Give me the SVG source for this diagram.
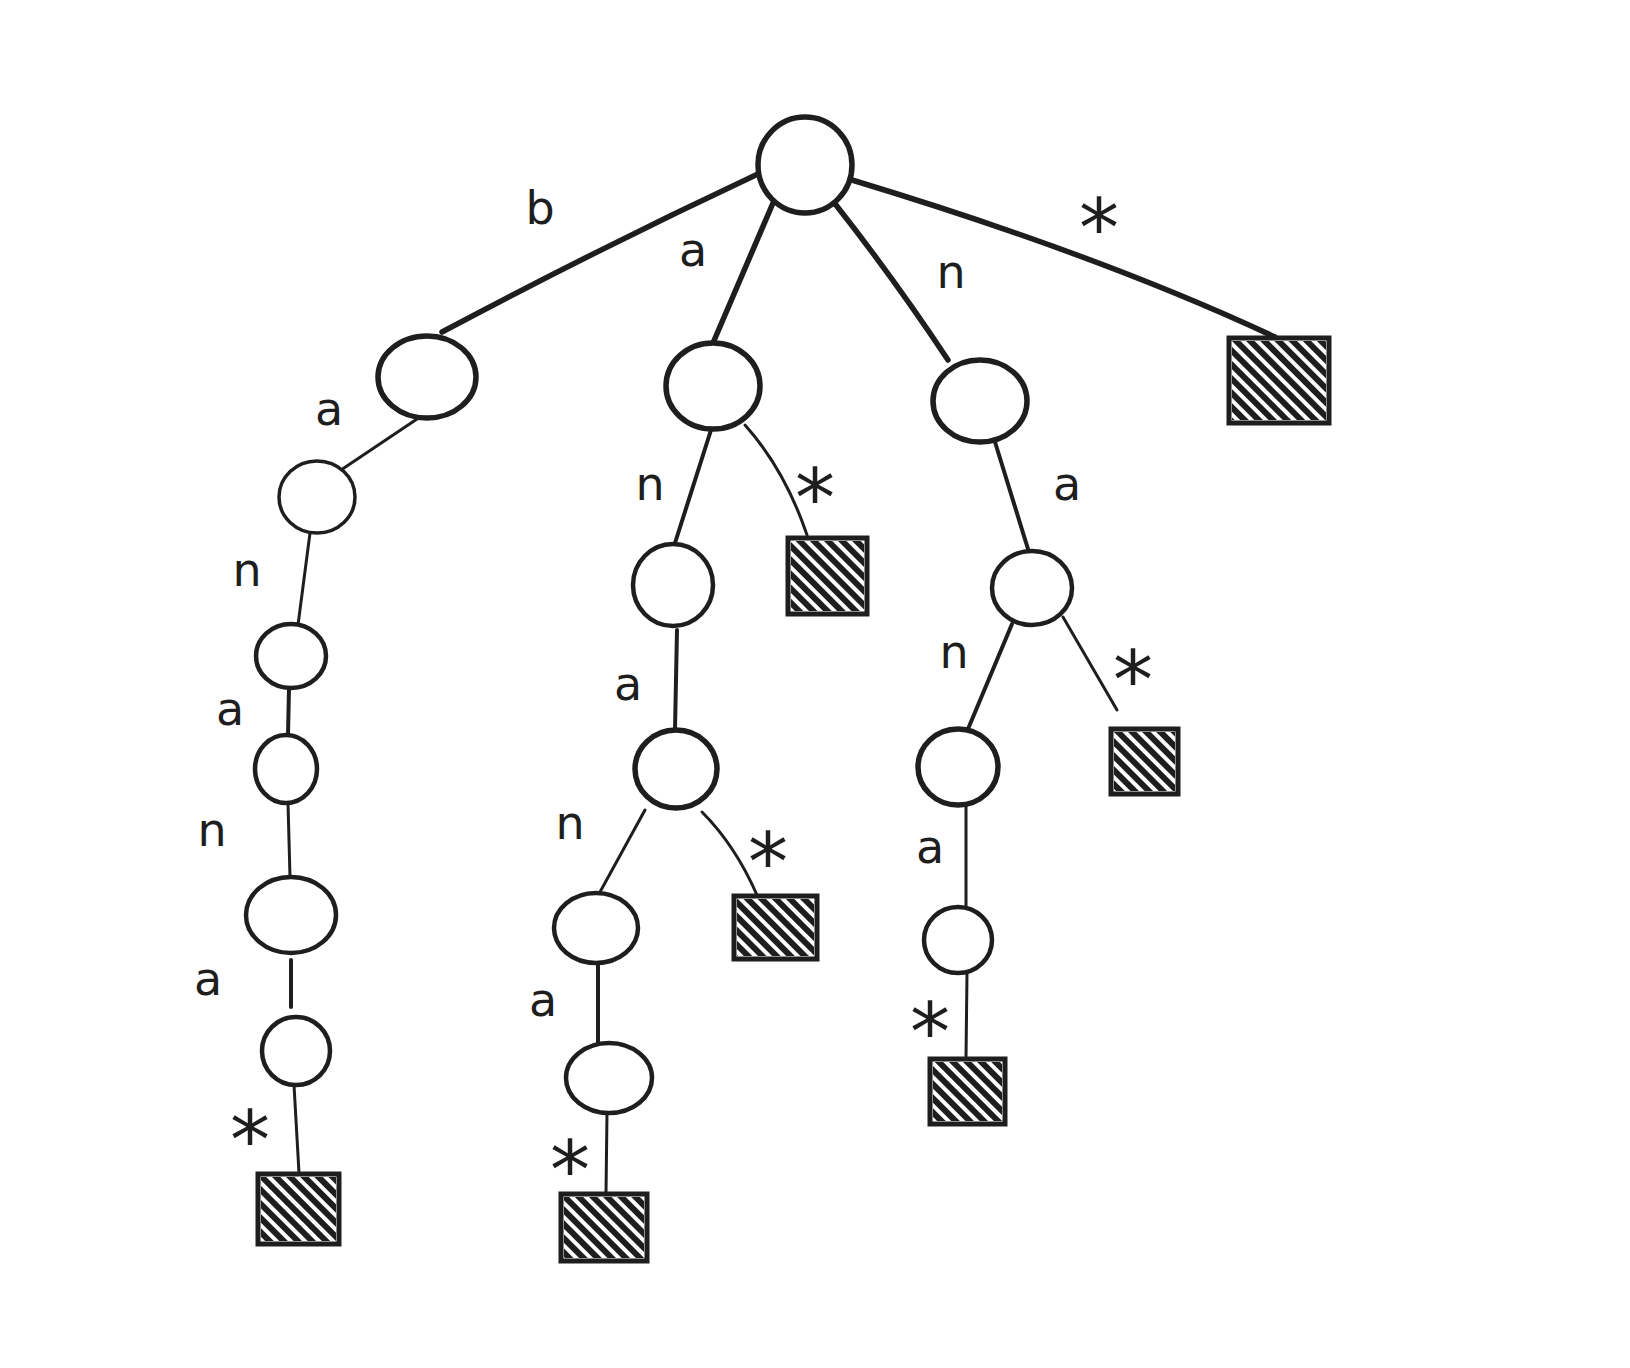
<svg xmlns="http://www.w3.org/2000/svg" width="1630" height="1368" viewBox="0 0 1630 1368">
  <defs>
    <!-- diagonal "\" hatching used to shade the terminal boxes -->
    <pattern id="hatch" patternUnits="userSpaceOnUse" width="10" height="10" patternTransform="rotate(-45)">
      <line x1="3" y1="0" x2="3" y2="10" stroke="#1e1e1e" stroke-width="6"/>
    </pattern>
    <style>
      .node { fill: #ffffff; stroke: #1e1e1e; stroke-width: 4.5; }
      .node.heavy { stroke-width: 5.5; }
      .node.light { stroke-width: 3.5; }
      .leaf .box { fill: #ffffff; stroke: #1e1e1e; stroke-width: 5; stroke-linejoin: miter; }
      .leaf .shade { fill: url(#hatch); stroke: none; }
      .edge { fill: none; stroke: #1e1e1e; stroke-linecap: round; }
      .e-thick { stroke-width: 5.5; }
      .e-mid { stroke-width: 4; }
      .e-thin { stroke-width: 3; }
      .lbl { font-family: "DejaVu Sans", "Liberation Sans", sans-serif; font-size: 46px; fill: #1e1e1e; text-anchor: middle; }
      .star { font-family: "DejaVu Sans", "Liberation Sans", sans-serif; font-size: 80px; fill: #1e1e1e; text-anchor: middle; }
    </style>
  </defs>

  <rect width="1630" height="1368" fill="#ffffff"/>

  <!-- connectors -->
  <g id="edges">
    <!-- from the root -->
    <path class="edge e-thick" d="M760,173 Q600,248 442,332"/>
    <path class="edge e-thick" d="M773,203 L713,343"/>
    <path class="edge e-thick" d="M836,205 Q895,280 948,360"/>
    <path class="edge e-thick" d="M852,180 Q1100,255 1275,337"/>
    <!-- b branch -->
    <path class="edge e-thin" d="M420,417 L338,472"/>
    <path class="edge e-thin" d="M310,533 L298,625"/>
    <path class="edge e-mid" d="M289,688 L288,735"/>
    <path class="edge e-thin" d="M288,803 L290,877"/>
    <path class="edge e-mid" d="M291,960 L291,1007"/>
    <path class="edge e-thin" d="M294,1085 L299,1173"/>
    <!-- a branch -->
    <path class="edge e-mid" d="M711,430 L675,543"/>
    <path class="edge e-thin" d="M745,425 Q785,470 807,535"/>
    <path class="edge e-mid" d="M677,630 L675,729"/>
    <path class="edge e-thin" d="M645,810 L600,892"/>
    <path class="edge e-thin" d="M702,812 Q735,845 757,895"/>
    <path class="edge e-mid" d="M598,964 L598,1043"/>
    <path class="edge e-thin" d="M607,1113 L606,1193"/>
    <!-- n branch -->
    <path class="edge e-mid" d="M995,442 L1028,549"/>
    <path class="edge e-mid" d="M1012,624 L968,729"/>
    <path class="edge e-thin" d="M1063,617 L1117,710"/>
    <path class="edge e-thin" d="M966,806 L966,907"/>
    <path class="edge e-thin" d="M967,973 L966,1058"/>
  </g>

  <!-- edge labels -->
  <g id="labels">
    <text class="lbl" x="540" y="224">b</text>
    <text class="lbl" x="693" y="266">a</text>
    <text class="lbl" x="951" y="288">n</text>
    <text class="star" x="1099" y="256">*</text>

    <text class="lbl" x="329" y="425">a</text>
    <text class="lbl" x="247" y="586">n</text>
    <text class="lbl" x="230" y="725">a</text>
    <text class="lbl" x="212" y="846">n</text>
    <text class="lbl" x="208" y="995">a</text>
    <text class="star" x="250" y="1168">*</text>

    <text class="lbl" x="650" y="500">n</text>
    <text class="star" x="815" y="526">*</text>
    <text class="lbl" x="628" y="700">a</text>
    <text class="lbl" x="570" y="839">n</text>
    <text class="star" x="768" y="890">*</text>
    <text class="lbl" x="543" y="1016">a</text>
    <text class="star" x="570" y="1198">*</text>

    <text class="lbl" x="1067" y="500">a</text>
    <text class="lbl" x="954" y="668">n</text>
    <text class="star" x="1133" y="708">*</text>
    <text class="lbl" x="930" y="863">a</text>
    <text class="star" x="930" y="1060">*</text>
  </g>

  <!-- internal nodes -->
  <g id="root"><ellipse class="node heavy" cx="805" cy="165" rx="47" ry="48"/></g>
  <g id="n-b"><ellipse class="node heavy" cx="427" cy="377" rx="49" ry="41"/></g>
  <g id="n-ba"><ellipse class="node light" cx="317" cy="497" rx="38" ry="36"/></g>
  <g id="n-ban"><ellipse class="node" cx="291" cy="656" rx="35" ry="32"/></g>
  <g id="n-bana"><ellipse class="node" cx="286" cy="769" rx="31" ry="34"/></g>
  <g id="n-banan"><ellipse class="node" cx="291" cy="915" rx="45" ry="38"/></g>
  <g id="n-banana"><ellipse class="node" cx="296" cy="1051" rx="34" ry="34"/></g>

  <g id="n-a"><ellipse class="node heavy" cx="713" cy="386" rx="47" ry="43"/></g>
  <g id="n-an"><ellipse class="node" cx="673" cy="585" rx="40" ry="41"/></g>
  <g id="n-ana"><ellipse class="node heavy" cx="676" cy="769" rx="41" ry="39"/></g>
  <g id="n-anan"><ellipse class="node" cx="596" cy="928" rx="42" ry="35"/></g>
  <g id="n-anana"><ellipse class="node" cx="609" cy="1078" rx="43" ry="35"/></g>

  <g id="n-n"><ellipse class="node heavy" cx="980" cy="401" rx="47" ry="41"/></g>
  <g id="n-na"><ellipse class="node" cx="1032" cy="588" rx="40" ry="37"/></g>
  <g id="n-nan"><ellipse class="node heavy" cx="958" cy="767" rx="40" ry="38"/></g>
  <g id="n-nana"><ellipse class="node" cx="958" cy="940" rx="34" ry="33"/></g>

  <!-- terminal (end-of-string) boxes -->
  <g id="leaf-star" class="leaf">
    <rect class="box" x="1229" y="338" width="100" height="85"/>
    <rect class="shade" x="1232" y="341" width="94" height="79"/>
  </g>
  <g id="leaf-a-star" class="leaf">
    <rect class="box" x="788" y="538" width="79" height="76"/>
    <rect class="shade" x="791" y="541" width="73" height="70"/>
  </g>
  <g id="leaf-ana-star" class="leaf">
    <rect class="box" x="734" y="896" width="83" height="63"/>
    <rect class="shade" x="737" y="899" width="77" height="57"/>
  </g>
  <g id="leaf-anana-star" class="leaf">
    <rect class="box" x="561" y="1194" width="86" height="67"/>
    <rect class="shade" x="564" y="1197" width="80" height="61"/>
  </g>
  <g id="leaf-banana-star" class="leaf">
    <rect class="box" x="258" y="1174" width="81" height="70"/>
    <rect class="shade" x="261" y="1177" width="75" height="64"/>
  </g>
  <g id="leaf-na-star" class="leaf">
    <rect class="box" x="1111" y="729" width="67" height="65"/>
    <rect class="shade" x="1114" y="732" width="61" height="59"/>
  </g>
  <g id="leaf-nana-star" class="leaf">
    <rect class="box" x="930" y="1059" width="75" height="65"/>
    <rect class="shade" x="933" y="1062" width="69" height="59"/>
  </g>
</svg>
